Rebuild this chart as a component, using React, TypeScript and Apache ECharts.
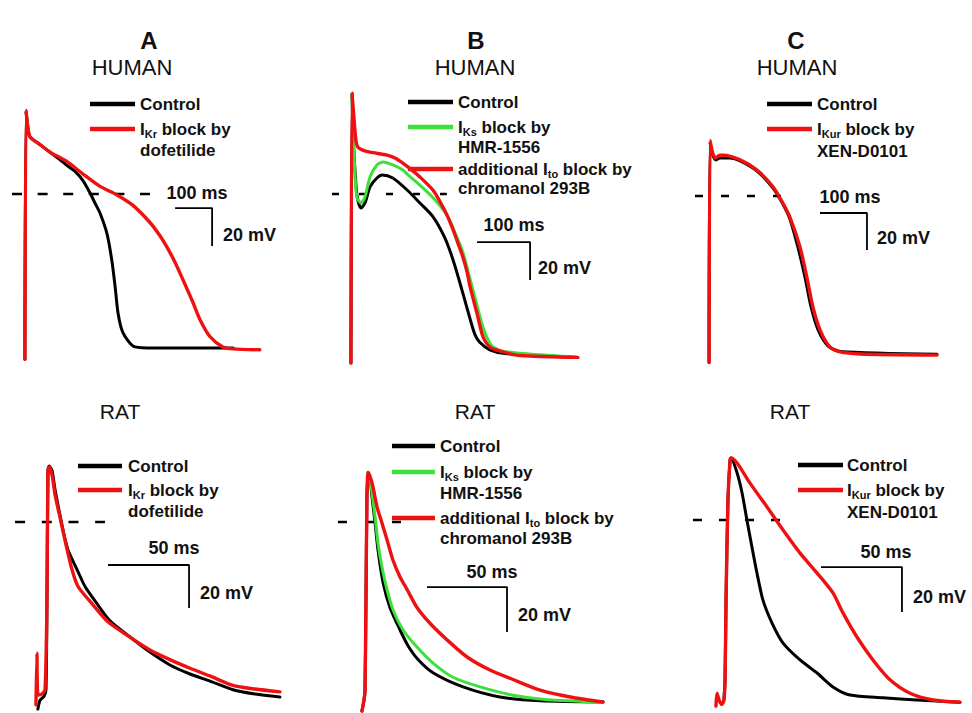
import React, { useEffect, useRef } from "react";
import * as echarts from "echarts";

// ---------- DATA (time in ms, membrane potential in mV) ----------
// Human, panel A
const hA_ctrl_t = [-3, 0, 5, 11, 38, 65, 92, 111, 132, 154, 173, 187, 200, 219, 232, 241, 249, 262, 289, 327, 560];
const hA_ctrl_v = [-87, 44, 35, 30, 26, 22, 18, 15, 12, 7, 0.5, -5, -10, -21, -35, -49, -63, -73, -80, -81, -81];
const hA_dof_t = [-3, 0, 5, 11, 38, 65, 111, 154, 200, 246, 289, 335, 362, 381, 403, 424, 451, 470, 497, 532, 560, 632];
const hA_dof_v = [-87, 44, 35, 30, 26, 22, 17, 10.5, 4, -0.5, -6, -15, -22, -28, -36, -45, -57, -66, -75, -80.5, -81.5, -82];

// Human, panel B
const hB_ctrl_t = [-2, 0, 2, 7.5, 11, 17, 24.5, 34, 47, 57, 77, 104, 128, 153, 175, 191, 209, 223, 232, 241, 260, 289, 426];
const hB_ctrl_v = [-89, 53, 31, 4.7, -3.2, -7.4, -4.7, 3.7, 8.4, 10, 8.4, 2.1, -4.7, -12, -23, -35, -52, -66, -74, -78, -82, -84, -86];
const hB_hmr_t = [0, 2, 5.7, 9.4, 17, 24.5, 34, 47, 58.5, 77, 96, 104, 128, 153, 179, 194, 209, 223, 238, 247, 257, 266, 289, 426];
const hB_hmr_v = [53, 34, 10, -2, -4.7, -1.6, 9, 15.3, 16.8, 15.3, 12.6, 10.5, 4.7, -2, -11, -20, -30.5, -45, -61, -70, -77, -80.5, -83, -86];
const hB_chr_t = [-2, 0, 4, 7.5, 11, 19, 34, 66, 81, 96, 113, 128, 153, 166, 179, 191, 200, 209, 217, 223, 236, 247, 260, 279, 317, 426];
const hB_chr_v = [-89, 53, 39, 28, 24.7, 23.2, 22, 20.5, 19, 16.3, 12.6, 9, 2, -4, -11, -19, -26, -33, -41, -49, -63, -75, -80.5, -82.6, -85, -86];

// Human, panel C
const hC_ctrl_t = [-2, 0, 6, 13, 21, 43, 64, 100, 134, 155, 170, 187, 202, 215, 230, 251, 277, 483];
const hC_ctrl_v = [-90, 29, 22, 19.5, 20.5, 20.5, 19, 13.5, 4.3, -4.3, -12.4, -27.6, -43.8, -60, -72.4, -81, -84, -85.5];
const hC_xen_t = [-2, 0, 4, 11, 21, 28, 64, 100, 134, 155, 170, 191.5, 206, 219, 234, 255, 277, 319, 483];
const hC_xen_v = [-90, 30, 25, 20.5, 22, 22, 19.5, 14, 5, -3.8, -11.4, -27.6, -43.8, -60, -72.4, -81.6, -84.3, -85.4, -86];

// Rat, panel A
const rA_ctrl_t = [-5, -3.7, -1.2, 0, 0.6, 1.2, 1.9, 3.7, 5.6, 8, 10.5, 13.6, 19.1, 24.1, 31.5, 39.5, 51.9, 64.2, 76.5, 88.9, 101.2, 115.4, 129, 144.4];
const rA_ctrl_v = [-87, -83, -81, -78, -36, 24, 26, 24, 15, 5.6, -3.7, -13, -22, -30, -38, -46, -53.5, -60.5, -66.5, -70.7, -74, -78, -80, -81.4];
const rA_dof_t = [-6.2, -5.6, -4.9, -2.5, -0.6, 0.6, 1.2, 1.9, 3.7, 5.6, 8.6, 11.7, 16, 19.8, 28.4, 37.7, 48.8, 64.2, 76.5, 88.9, 101.2, 115.4, 129, 144.4];
const rA_dof_v = [-85, -61, -80.5, -80, -78, -36, 24, 25.6, 22, 12.6, 2.3, -8.4, -22, -30, -38, -46, -52, -59.5, -64, -68, -71.6, -76, -77.7, -79];

// Rat, panel B
const rB_ctrl_t = [-1.9, -0.6, 0, 0.6, 1.2, 1.9, 3.1, 4.4, 6.3, 8.1, 11.3, 15.6, 21.9, 26.9, 33, 42.5, 61.3, 84.4, 109.4, 148.8];
const rB_ctrl_v = [-84, -79, -75, -35, 10, 22, 19.6, 11, -0.4, -12.4, -27, -38, -48, -55, -61, -67, -73.3, -77.8, -79.5, -80];
const rB_hmr_t = [1.9, 3.1, 4.4, 6.3, 8.1, 10.6, 13.8, 17.5, 23.8, 32.5, 42.5, 55, 72, 92.5, 113.8, 148.8];
const rB_hmr_v = [22, 19.6, 12.9, 2.2, -9.3, -20, -30.2, -39, -48, -55.6, -62.7, -69, -73.3, -77, -79, -80];
const rB_chr_t = [-1.9, -0.6, 0, 0.6, 1.2, 1.9, 3.1, 5, 7.5, 10.6, 13.8, 17.5, 21.9, 26.3, 32.5, 40.6, 51.3, 63.8, 78.1, 92.5, 109.4, 130, 148.8];
const rB_chr_v = [-84, -79, -75, -35, 10, 22, 20.4, 15.6, 6.7, -0.4, -8, -17, -24.4, -30, -38, -45, -52.4, -60, -65.8, -70, -74.7, -78, -80];

// Rat, panel C
const rC_ctrl_t = [-1.9, -1.2, -0.6, 0.6, 1.9, 2.5, 6.2, 9.3, 12.3, 15.4, 18.5, 22.2, 27.8, 34.6, 45.1, 55.6, 65.4, 75.9, 96.3, 117.3, 143.8];
const rC_ctrl_v = [-80, -71, -35.6, 9, 26.7, 27.6, 21, 12, 0, -12, -23.6, -35.6, -45.8, -54.7, -62.2, -68, -74.2, -77.8, -79, -80, -81];
const rC_xen_t = [-6.8, -6.2, -4.9, -3.1, -1.9, -1.2, -0.6, 0.6, 1.9, 2.5, 6.2, 14.2, 24.7, 34.6, 45.1, 55.6, 65.4, 71.6, 80.2, 90.1, 100.6, 113, 127.2, 143.8];
const rC_xen_v = [-82.7, -77, -80, -82, -80, -71, -35.6, 9, 26.7, 27.6, 25.3, 16.4, 5.8, -4.4, -14.7, -23.6, -32.4, -41.3, -52, -62.2, -71, -77, -80, -81];

// 0 mV reference (dashed) line extents, ms
const zeroLineRange = [[-37.8, 335], [-37.7, 179], [-31.9, 151], [-19.1, 36.4], [-16.9, 22.5], [-21, 34]];
// scale bars: start [ms, mV], lengths
const scaleBarStart = [[403, -7.4], [236, -25.3], [234, -9.2], [38.3, -20], [38.75, -28.9], [58, -20.9]];
const scaleBarMs = [100, 100, 100, 50, 50, 50];
const scaleBarMv = [20, 20, 20, 20, 20, 20];

// ---------- LAYOUT ----------
const BLACK = "#000000";
const RED = "#ee1111";
const GREEN = "#3ce03a";
const FONT = "Liberation Sans, Arial, Helvetica, sans-serif";

// box: [left, top, width, height]; x0,y0: pixel of (0 ms, 0 mV); sx px/ms, sy px/mV
const PANELS = [
  { box: [0, 80, 320, 300], x0: 26, sx: 0.37, y0: 194, sy: 1.9, dash: [10, 15.6] },
  { box: [320, 80, 320, 300], x0: 352, sx: 0.53, y0: 194, sy: 1.9, dash: [7, 20] },
  { box: [640, 80, 332, 300], x0: 710, sx: 0.47, y0: 196, sy: 1.85, dash: [8, 18] },
  { box: [0, 430, 320, 283], x0: 46, sx: 1.62, y0: 522, sy: 2.15, dash: [10, 16.7] },
  { box: [320, 430, 320, 283], x0: 365, sx: 1.6, y0: 522, sy: 2.25, dash: [9, 18] },
  { box: [640, 430, 332, 283], x0: 727, sx: 1.62, y0: 520, sy: 2.25, dash: [9, 17] },
];

const TRACES = [
  { p: 0, t: hA_ctrl_t, v: hA_ctrl_v, c: BLACK },
  { p: 0, t: hA_dof_t, v: hA_dof_v, c: RED },
  { p: 1, t: hB_ctrl_t, v: hB_ctrl_v, c: BLACK },
  { p: 1, t: hB_hmr_t, v: hB_hmr_v, c: GREEN },
  { p: 1, t: hB_chr_t, v: hB_chr_v, c: RED },
  { p: 2, t: hC_ctrl_t, v: hC_ctrl_v, c: BLACK },
  { p: 2, t: hC_xen_t, v: hC_xen_v, c: RED },
  { p: 3, t: rA_ctrl_t, v: rA_ctrl_v, c: BLACK },
  { p: 3, t: rA_dof_t, v: rA_dof_v, c: RED },
  { p: 4, t: rB_ctrl_t, v: rB_ctrl_v, c: BLACK },
  { p: 4, t: rB_hmr_t, v: rB_hmr_v, c: GREEN },
  { p: 4, t: rB_chr_t, v: rB_chr_v, c: RED },
  { p: 5, t: rC_ctrl_t, v: rC_ctrl_v, c: BLACK },
  { p: 5, t: rC_xen_t, v: rC_xen_v, c: RED },
];

// legend entries: [lineX1, lineX2, textX, y, color|null, main, sub, post]
const LEGENDS: any[] = [
  [90, 135, 140, 104, BLACK, "Control", "", ""],
  [90, 135, 140, 129, RED, "I", "Kr", " block by"],
  [90, 135, 140, 150, null, "dofetilide", "", ""],
  [408, 453, 458, 102, BLACK, "Control", "", ""],
  [408, 453, 458, 127, GREEN, "I", "Ks", " block by"],
  [408, 453, 458, 147, null, "HMR-1556", "", ""],
  [408, 453, 458, 169, RED, "additional I", "to", " block by"],
  [408, 453, 458, 188, null, "chromanol 293B", "", ""],
  [767, 812, 817, 104, BLACK, "Control", "", ""],
  [767, 812, 817, 129, RED, "I", "Kur", " block by"],
  [767, 812, 817, 151, null, "XEN-D0101", "", ""],
  [78, 122, 128, 466, BLACK, "Control", "", ""],
  [78, 122, 128, 490, RED, "I", "Kr", " block by"],
  [78, 122, 128, 511, null, "dofetilide", "", ""],
  [392, 435, 440, 446, BLACK, "Control", "", ""],
  [392, 435, 440, 472, GREEN, "I", "Ks", " block by"],
  [392, 435, 440, 493, null, "HMR-1556", "", ""],
  [392, 435, 440, 518, RED, "additional I", "to", " block by"],
  [392, 435, 440, 538, null, "chromanol 293B", "", ""],
  [798, 843, 847, 465, BLACK, "Control", "", ""],
  [798, 843, 847, 490, RED, "I", "Kur", " block by"],
  [798, 843, 847, 512, null, "XEN-D0101", "", ""],
];

// scale labels: [text, x, y, align]
const SCALE_LABELS: any[] = [
  ["100 ms", 197, 193, "center"], ["20 mV", 223, 235, "left"],
  ["100 ms", 514, 225, "center"], ["20 mV", 538, 268, "left"],
  ["100 ms", 850, 197, "center"], ["20 mV", 877, 238, "left"],
  ["50 ms", 174, 548, "center"], ["20 mV", 200, 593, "left"],
  ["50 ms", 492, 572, "center"], ["20 mV", 518, 615, "left"],
  ["50 ms", 886, 552, "center"], ["20 mV", 913, 597, "left"],
];

// headings: [text, x, y, size, weight]
const HEADINGS: any[] = [
  ["A", 149, 40, 24, "bold"], ["B", 476, 40, 24, "bold"], ["C", 796, 40, 24, "bold"],
  ["HUMAN", 132, 67, 22, "normal"], ["HUMAN", 475, 67, 22, "normal"], ["HUMAN", 797, 67, 22, "normal"],
  ["RAT", 120, 411, 21, "normal"], ["RAT", 475, 411, 21, "normal"], ["RAT", 790, 411, 21, "normal"],
];

function zip(t: number[], v: number[]) {
  return t.map((x, i) => [x, v[i]]);
}

function buildOption() {
  const grid: any[] = [];
  const xAxis: any[] = [];
  const yAxis: any[] = [];
  const series: any[] = [];

  PANELS.forEach((p, i) => {
    const [l, t, w, h] = p.box;
    grid.push({ left: l, top: t, width: w, height: h, containLabel: false, show: false });
    xAxis.push({
      type: "value", gridIndex: i, show: false, scale: true,
      min: (l - p.x0) / p.sx, max: (l + w - p.x0) / p.sx,
      splitLine: { show: false },
    });
    yAxis.push({
      type: "value", gridIndex: i, show: false, scale: true,
      min: (p.y0 - (t + h)) / p.sy, max: (p.y0 - t) / p.sy,
      splitLine: { show: false },
    });
    // dashed 0 mV line
    series.push({
      type: "line", xAxisIndex: i, yAxisIndex: i, symbol: "none", silent: true, z: 1,
      data: [[zeroLineRange[i][0], 0], [zeroLineRange[i][1], 0]],
      lineStyle: { color: BLACK, width: 2.4, type: p.dash },
    });
    // scale bar
    const [st, sv] = scaleBarStart[i];
    series.push({
      type: "line", xAxisIndex: i, yAxisIndex: i, symbol: "none", silent: true, z: 1,
      data: [[st, sv], [st + scaleBarMs[i], sv], [st + scaleBarMs[i], sv - scaleBarMv[i]]],
      lineStyle: { color: BLACK, width: 1.8 },
    });
  });

  TRACES.forEach((tr, k) => {
    series.push({
      type: "line", xAxisIndex: tr.p, yAxisIndex: tr.p, symbol: "none", silent: true,
      smooth: 0.25, z: 2 + k,
      data: zip(tr.t, tr.v),
      lineStyle: { color: tr.c, width: tr.c === RED ? 3.4 : 3, cap: "round", join: "round" },
    });
  });

  const graphic: any[] = [];
  HEADINGS.forEach(([text, x, y, size, weight]) => {
    graphic.push({
      type: "text", x, y, silent: true,
      style: {
        text, fontSize: size, fontWeight: weight, fontFamily: FONT, fill: "#111",
        align: "center", textAlign: "center", verticalAlign: "middle", textVerticalAlign: "middle",
      },
    });
  });
  LEGENDS.forEach(([x1, x2, tx, y, color, main, sub, post]) => {
    if (color) {
      graphic.push({
        type: "line", silent: true,
        shape: { x1, y1: y, x2, y2: y },
        style: { stroke: color, lineWidth: 4.5 },
      });
    }
    const text = sub ? `{m|${main}}{s|${sub}}{m|${post}}` : `{m|${main}}`;
    graphic.push({
      type: "text", x: tx, y, silent: true,
      style: {
        text, fill: "#111", align: "left", textAlign: "left",
        verticalAlign: "middle", textVerticalAlign: "middle",
        rich: {
          m: { fontSize: 17, fontWeight: "bold", fontFamily: FONT, fill: "#111" },
          s: { fontSize: 11, fontWeight: "bold", fontFamily: FONT, fill: "#111", padding: [10, 0, 0, 0] },
        },
      },
    });
  });
  SCALE_LABELS.forEach(([text, x, y, align]) => {
    graphic.push({
      type: "text", x, y, silent: true,
      style: {
        text, fontSize: 18, fontWeight: "bold", fontFamily: FONT, fill: "#111",
        align, textAlign: align, verticalAlign: "middle", textVerticalAlign: "middle",
      },
    });
  });

  return {
    animation: false,
    backgroundColor: "#ffffff",
    grid, xAxis, yAxis, series, graphic,
  };
}

export default function App() {
  const ref = useRef<HTMLDivElement>(null);
  useEffect(() => {
    if (!ref.current) return;
    const chart = echarts.init(ref.current, undefined, { renderer: "svg" });
    chart.setOption(buildOption() as any);
    return () => chart.dispose();
  }, []);
  return (
    <div
      ref={ref}
      style={{ position: "absolute", left: 0, top: 0, width: 972, height: 713, background: "#fff" }}
    />
  );
}
